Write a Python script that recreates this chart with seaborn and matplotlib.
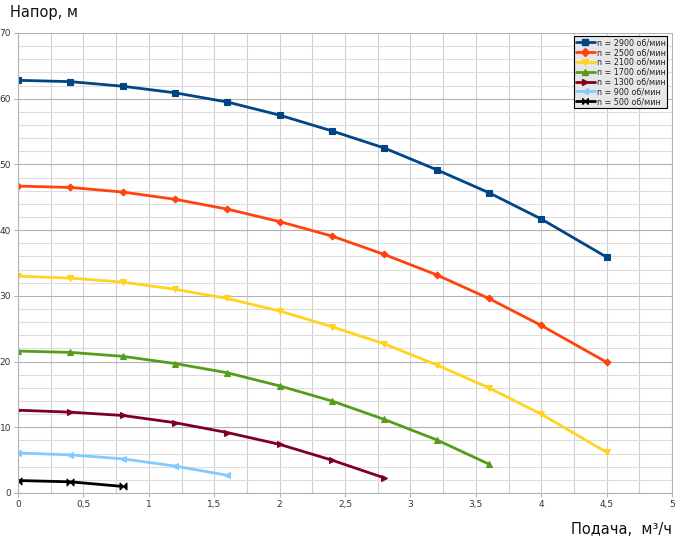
import numpy as np
import pandas as pd
import matplotlib
matplotlib.use("Agg")
import matplotlib.pyplot as plt
from matplotlib.path import Path
from matplotlib.lines import Line2D
from matplotlib.ticker import MultipleLocator, FuncFormatter
import seaborn as sns

# ---- data ----
series_names = ["n = 2900 об/мин", "n = 2500 об/мин", "n = 2100 об/мин",
                "n = 1700 об/мин", "n = 1300 об/мин", "n = 900 об/мин",
                "n = 500 об/мин"]
q_2900 = [0, 0.4, 0.8, 1.2, 1.6, 2.0, 2.4, 2.8, 3.2, 3.6, 4.0, 4.5]
h_2900 = [62.8, 62.6, 61.9, 60.9, 59.5, 57.5, 55.1, 52.5, 49.2, 45.7, 41.7, 35.9]
q_2500 = [0, 0.4, 0.8, 1.2, 1.6, 2.0, 2.4, 2.8, 3.2, 3.6, 4.0, 4.5]
h_2500 = [46.7, 46.5, 45.8, 44.7, 43.2, 41.3, 39.1, 36.3, 33.2, 29.6, 25.5, 19.9]
q_2100 = [0, 0.4, 0.8, 1.2, 1.6, 2.0, 2.4, 2.8, 3.2, 3.6, 4.0, 4.5]
h_2100 = [33.0, 32.7, 32.1, 31.0, 29.6, 27.7, 25.3, 22.7, 19.5, 16.0, 12.0, 6.2]
q_1700 = [0, 0.4, 0.8, 1.2, 1.6, 2.0, 2.4, 2.8, 3.2, 3.6]
h_1700 = [21.6, 21.4, 20.8, 19.7, 18.3, 16.3, 14.0, 11.2, 8.1, 4.4]
q_1300 = [0, 0.4, 0.8, 1.2, 1.6, 2.0, 2.4, 2.8]
h_1300 = [12.6, 12.3, 11.8, 10.7, 9.2, 7.4, 5.0, 2.3]
q_900 = [0, 0.4, 0.8, 1.2, 1.6]
h_900 = [6.1, 5.8, 5.2, 4.1, 2.7]
q_500 = [0, 0.4, 0.8]
h_500 = [1.9, 1.7, 1.0]

x_ticks = [0, 0.5, 1, 1.5, 2, 2.5, 3, 3.5, 4, 4.5, 5]
y_ticks = [0, 10, 20, 30, 40, 50, 60, 70]

all_q = [q_2900, q_2500, q_2100, q_1700, q_1300, q_900, q_500]
all_h = [h_2900, h_2500, h_2100, h_1700, h_1300, h_900, h_500]

rows = []
for name, qs, hs in zip(series_names, all_q, all_h):
    for q, h in zip(qs, hs):
        rows.append({"Подача": q, "Напор": h, "series": name})
df = pd.DataFrame(rows)

colors = ["#004586", "#ff420e", "#ffd320", "#579d1c", "#7e0021", "#83caff", "#000000"]
palette = dict(zip(series_names, colors))

bowtie = Path([(-1, -1), (-1, 1), (1, -1), (1, 1), (-1, -1)],
              [Path.MOVETO, Path.LINETO, Path.LINETO, Path.LINETO, Path.CLOSEPOLY])
marker_list = ["s", "D", "v", "^", ">", "<", bowtie]
markers = dict(zip(series_names, marker_list))
msizes = dict(zip(series_names, [5, 3.5, 5, 5, 5, 5, 5]))

sns.set_theme(style="white")
plt.rcParams['font.family'] = ['DejaVu Sans']

fig = plt.figure(figsize=(6.81, 5.44), dpi=100)
ax = fig.add_axes([18/681, 1 - 493/544, (672-18)/681, (493-33)/544])

sns.lineplot(data=df, x="Подача", y="Напор", hue="series", style="series",
             hue_order=series_names, style_order=series_names,
             palette=palette, markers=markers, dashes=False,
             linewidth=2.0, markersize=5, markeredgewidth=0.8,
             ax=ax, legend=False, sort=False)

for line, name in zip(ax.lines, series_names):
    line.set_markeredgecolor(palette[name])
    line.set_markersize(msizes[name])

ax.set_xlim(0, 5)
ax.set_ylim(0, 70)
ax.set_xticks(x_ticks)
ax.set_yticks(y_ticks)
ax.xaxis.set_minor_locator(MultipleLocator(0.25))
ax.yaxis.set_minor_locator(MultipleLocator(2))
fmt = FuncFormatter(lambda v, p: ("%g" % v).replace(".", ","))
ax.xaxis.set_major_formatter(fmt)
ax.yaxis.set_major_formatter(fmt)

ax.grid(which="major", axis="y", color="#b3b3b3", linewidth=0.8)
ax.grid(which="minor", axis="y", color="#dddddd", linewidth=0.8)
ax.grid(which="both", axis="x", color="#d0d0d0", linewidth=0.8)
ax.set_axisbelow(True)

for s in ["left", "bottom", "right", "top"]:
    ax.spines[s].set_color("#b3b3b3")
    ax.spines[s].set_linewidth(0.8)
ax.spines["top"].set_visible(False)

ax.tick_params(axis="both", which="major", labelsize=6.5, labelcolor="#333333",
               length=3, color="#b3b3b3", width=0.8, pad=2, bottom=True, left=True)
ax.tick_params(axis="both", which="minor", length=0)
ax.set_xlabel("")
ax.set_ylabel("")

fig.text(10/681, 1 - 12/544, "Напор, м", fontsize=10.5, va="center", ha="left", color="#111111")
fig.text(672/681, 1 - 530/544, "Подача,  м³/ч", fontsize=10.5, va="center", ha="right", color="#111111")

handles = [Line2D([0], [0], color=palette[n], linestyle="-", linewidth=2.0,
                  marker=markers[n], markersize=4, markeredgecolor=palette[n],
                  markerfacecolor=palette[n])
           for n in series_names]
leg = ax.legend(handles, series_names, loc="upper right", bbox_to_anchor=(0.993, 0.993),
                fontsize=5.8, frameon=True, fancybox=False, framealpha=1,
                edgecolor="black", facecolor="#e6e6e6", borderpad=0.25,
                labelspacing=0.1, handlelength=2.3, handletextpad=0.25,
                borderaxespad=0)
leg.get_frame().set_linewidth(0.8)

fig.savefig("out.png", dpi=100)
